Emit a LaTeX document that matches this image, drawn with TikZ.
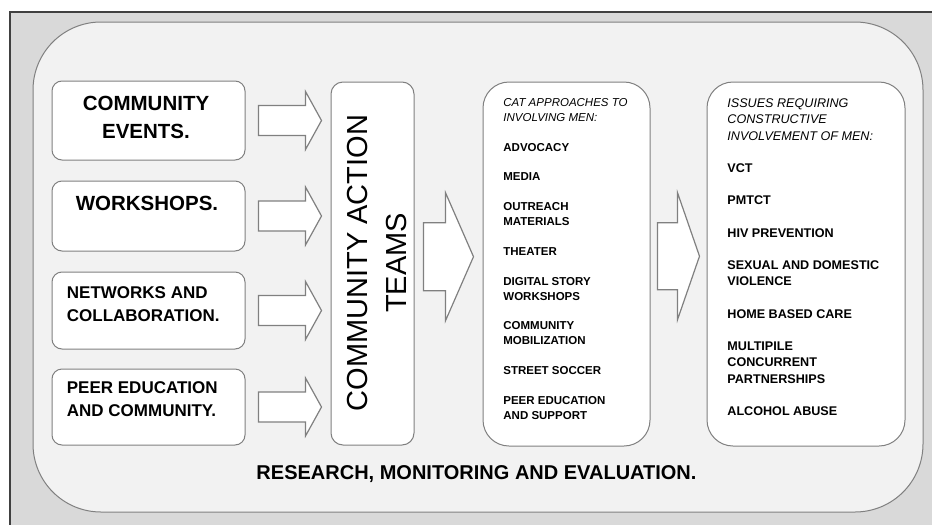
\documentclass[tikz,border=0pt]{standalone}
\usepackage{fontspec}
\setmainfont{Liberation Sans}
\usetikzlibrary{calc}
\definecolor{framegray}{RGB}{217,217,217}
\definecolor{panelgray}{RGB}{242,242,242}
\definecolor{linegray}{RGB}{128,128,128}
\definecolor{framedark}{RGB}{64,64,64}
\tikzset{
  inbox/.style={draw=linegray,fill=white,line width=0.5pt,rounded corners=5pt,inner sep=0pt},
  listbox/.style={inbox,rounded corners=13pt,minimum height=182pt},
  fatarrow/.style={draw=linegray,fill=white,line width=0.6pt,line join=miter},
  sourcetext/.style={font=\bfseries\fontsize{10.25}{14}\selectfont,inner sep=0pt},
  smalltext/.style={font=\bfseries\fontsize{8.5}{11.25}\selectfont,inner sep=0pt,align=left,anchor=west},
}
\begin{document}
\begin{tikzpicture}[x=0.5pt,y=-0.5pt]
\useasboundingbox (0,0) rectangle (932,525);
% grey frame and the big panel
\fill[framegray] (10,12) rectangle (932,525);
\draw[framedark,line width=0.8pt] (932,12) -- (10,12) -- (10,525);
\draw[draw=linegray,fill=panelgray,line width=0.5pt,rounded corners=34pt] (33,22) rectangle (923,512);

% left column
\node[inbox,minimum width=96.5pt,minimum height=39.5pt] (ev) at (148.5,120.5) {};
\node[inbox,minimum width=96.5pt,minimum height=35pt] (ws) at (148.5,216) {};
\node[inbox,minimum width=96.5pt,minimum height=38.5pt] (nw) at (148.5,310.5) {};
\node[inbox,minimum width=96.5pt,minimum height=38pt] (pe) at (148.5,407) {};
\node[sourcetext,align=center] (evtext) at (146,117) {COMMUNITY\\EVENTS.};
\node[sourcetext] (wstext) at (147,203) {WORKSHOPS.};
\node[smalltext] (nwtext) at (66.5,304) {NETWORKS AND\\COLLABORATION.};
\node[smalltext] (petext) at (66.5,399) {PEER EDUCATION\\AND COMMUNITY.};

% community action teams
\node[inbox,rounded corners=6pt,minimum width=41.5pt,minimum height=181.5pt] (cat) at (372.5,263.5) {};
\node[rotate=90,align=center,inner sep=0pt,font=\fontsize{14.5}{19.5}\selectfont] (cattext) at (377,263) {COMMUNITY ACTION\\TEAMS};

% the two lists
\node[listbox,minimum width=83.5pt] (apr) at (566.5,264) {};
\node[listbox,minimum width=99pt] (iss) at (806,264) {};

\node[anchor=north west,align=left,inner sep=0pt,font=\bfseries\fontsize{5.75}{7.45}\selectfont] (aprtext) at (503,98)
{{\mdseries\itshape CAT APPROACHES TO}\\{\mdseries\itshape INVOLVING MEN:}\\[7.45pt]
ADVOCACY\\[7.45pt]
MEDIA\\[7.45pt]
OUTREACH\\MATERIALS\\[7.45pt]
THEATER\\[7.45pt]
DIGITAL STORY\\WORKSHOPS\\[7.45pt]
COMMUNITY\\MOBILIZATION\\[7.45pt]
STREET SOCCER\\[7.45pt]
PEER EDUCATION\\AND SUPPORT};

\node[anchor=north west,align=left,inner sep=0pt,font=\bfseries\fontsize{6.3}{8.1}\selectfont] (isstext) at (727,98.5)
{{\mdseries\itshape ISSUES REQUIRING}\\{\mdseries\itshape CONSTRUCTIVE}\\{\mdseries\itshape INVOLVEMENT OF MEN:}\\[8.1pt]
VCT\\[8.1pt]
PMTCT\\[8.1pt]
HIV PREVENTION\\[8.1pt]
SEXUAL AND DOMESTIC\\VIOLENCE\\[8.1pt]
HOME BASED CARE\\[8.1pt]
MULTIPILE\\CONCURRENT\\PARTNERSHIPS\\[8.1pt]
ALCOHOL ABUSE};

% block arrows
\foreach \b in {ev,ws,nw,pe}
  \draw[fatarrow] ($(\b.east)+(13,-15)$) -- ++(47,0) -- ++(0,-14) -- ++(16,29) -- ++(-16,29) -- ++(0,-14) -- ++(-47,0) -- cycle;
\draw[fatarrow] ($(cat.east)+(9,-40.8)$) -- ++(22,0) -- ++(0,-30) -- ++(28,64) -- ++(-28,64) -- ++(0,-30) -- ++(-22,0) -- cycle;
\draw[fatarrow] ($(apr.east)+(7,-41.3)$) -- ++(20,0) -- ++(0,-30) -- ++(22,63.5) -- ++(-22,63.5) -- ++(0,-30) -- ++(-20,0) -- cycle;

\node[anchor=base,inner sep=0pt,font=\bfseries\fontsize{10}{12}\selectfont] (rme) at (476.5,479) {RESEARCH, MONITORING AND EVALUATION.};
\end{tikzpicture}
\end{document}
